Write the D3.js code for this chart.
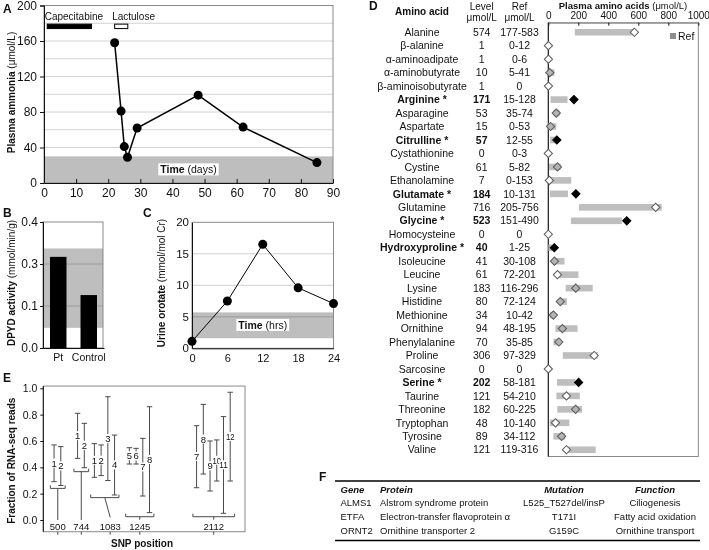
<!DOCTYPE html>
<html><head><meta charset="utf-8">
<script src="https://cdn.jsdelivr.net/npm/d3@7"></script>
<style>
body{margin:0;background:#fff}
svg{display:block}
text{font-family:"Liberation Sans",Arial,Helvetica,sans-serif;fill:#111}
</style>
</head><body>
<svg id="chart" width="709" height="550"></svg>
<script>
// ---------------- DATA ----------------
// Panel A: plasma ammonia
const ammoniaDays   = [22, 24, 25, 26, 29, 48, 62, 85];
const ammoniaValues = [158, 81, 41, 29, 62, 99, 63, 23];
const ammoniaNormal = [0, 30];
const ammoniaYTicks = [0, 40, 80, 120, 160, 200];
const dayTicks      = [0, 10, 20, 30, 40, 50, 60, 70, 80, 90];
const drugNames     = ["Capecitabine", "Lactulose"];
const drugStart     = [1, 22];
const drugEnd       = [14.8, 26.1];
const drugFilled    = [true, false];

// Panel B: DPYD activity
const dpydGroups = ["Pt", "Control"];
const dpydValues = [0.317, 0.152];
const dpydNormal = [0.048, 0.337];
const dpydTicks  = [0.0, 0.1, 0.3, 0.4];

// Panel C: urine orotate
const orotateHours  = [0, 6, 12, 18, 24];
const orotateValues = [1.1, 7.5, 16.5, 9.6, 7.1];
const orotateNormal = [1.6, 5.7];
const orotateYTicks = [0, 5, 10, 15, 20];

// Panel D: plasma amino acids
const aminoNames = ["Alanine","β-alanine","α-aminoadipate","α-aminobutyrate","β-aminoisobutyrate",
  "Arginine *","Asparagine","Aspartate","Citrulline *","Cystathionine","Cystine","Ethanolamine",
  "Glutamate *","Glutamine","Glycine *","Homocysteine","Hydroxyproline *","Isoleucine","Leucine",
  "Lysine","Histidine","Methionine","Ornithine","Phenylalanine","Proline","Sarcosine","Serine *",
  "Taurine","Threonine","Tryptophan","Tyrosine","Valine"];
const aminoLevels = [574,1,1,10,1,171,53,15,57,0,61,7,184,716,523,0,40,41,61,183,80,34,94,70,306,0,202,121,182,48,89,121];
const aminoRefLow  = [177,0,0,5,0,15,35,0,12,0,5,0,10,205,151,0,1,30,72,116,72,10,48,35,97,0,58,54,60,10,34,119];
const aminoRefHigh = [583,12,6,41,0,128,74,53,55,3,82,153,131,756,490,0,25,108,201,296,124,42,195,85,329,0,181,210,225,140,112,316];
const aminoStatus  = ["w","w","w","g","w","b","g","g","b","w","g","w","b","w","b","w","b","g","w","g","g","g","g","g","w","w","b","w","g","w","g","w"];
const aminoTicks   = [0, 200, 400, 600, 800, 1000];

// Panel E: fraction of RNA-seq reads
const snpGroups      = ["500", "744", "1083", "1245", "2112"];
const snpGroupStart  = [1.6, 5.1, 7.6, 12.8, 22.8];
const snpBracket     = [0.24, 0.367, 0.17, 0.025, 0.025];
const readGroup  = [0,0, 1,1, 2,2,2,2, 3,3,3,3, 4,4,4,4,4,4];
const readLabel  = ["1","2","1","2","1","2","3","4","5","6","7","8","7","8","9","10","11","12"];
const readHigh   = [0.57,0.557,0.81,0.734,0.58,0.57,0.936,0.645,0.549,0.544,0.62,0.86,0.716,0.878,0.60,0.608,0.785,0.97];
const readLow    = [0.291,0.262,0.468,0.397,0.324,0.337,0.30,0.19,0.425,0.425,0.182,0.056,0.245,0.349,0.22,0.296,0.051,0.296];
const fracTicks  = [0, 0.2, 0.4, 0.6, 0.8, 1.0];

// Panel F: table
const tableHeader   = ["Gene", "Protein", "Mutation", "Function"];
const tableGene     = ["ALMS1", "ETFA", "ORNT2"];
const tableProtein  = ["Alstrom syndrome protein", "Electron-transfer flavoprotein α", "Ornithine transporter 2"];
const tableMutation = ["L525_T527del/insP", "T171I", "G159C"];
const tableFunction = ["Ciliogenesis", "Fatty acid oxidation", "Ornithine transport"];

// ---------------- DRAWING ----------------
const svg = d3.select("#chart");
const BAND = "#bebebe";
const BOX = "#8a8a8a";

function panelLetter(t, x, y) {
  svg.append("text").attr("x", x).attr("y", y).attr("font-size", 12).attr("font-weight", "bold").text(t);
}
function richText(g, x, y, parts, size, anchor, rotate) {
  const t = g.append("text").attr("font-size", size).attr("text-anchor", anchor || "middle");
  if (rotate) t.attr("transform", `translate(${x},${y}) rotate(-90)`);
  else t.attr("x", x).attr("y", y);
  parts.forEach(p => t.append("tspan").attr("font-weight", p[1] ? "bold" : "normal").attr("font-style", p[2] ? "italic" : "normal").text(p[0]));
  return t;
}
function styleAxis(g, size) {
  g.attr("font-size", size).attr("font-family", null);
  g.selectAll("path").attr("stroke", "#111");
  g.selectAll("line").attr("stroke", "#111");
}
function boxedLabel(g, x, y, parts) {
  const t = richText(g, x, y + 3.7, parts, 10.5, "middle");
  const bb = t.node().getBBox();
  g.insert("rect", () => t.node()).attr("x", bb.x - 2).attr("y", bb.y).attr("width", bb.width + 4).attr("height", bb.height).attr("fill", "#fff");
}

// ===== Panel A =====
{
  const g = svg.append("g");
  const x = d3.scaleLinear().domain([0, 90]).range([44, 333]);
  const y = d3.scaleLinear().domain([0, 200]).range([183, 5.5]);
  g.selectAll("line.grid").data(y.ticks(10).filter(v => v > 0 && v < 200)).join("line")
    .attr("x1", x(0)).attr("x2", x(90)).attr("y1", d => y(d)).attr("y2", d => y(d)).attr("stroke", "#d2d2d2");
  g.append("rect").attr("x", x(0)).attr("width", x(90) - x(0)).attr("y", y(ammoniaNormal[1])).attr("height", y(ammoniaNormal[0]) - y(ammoniaNormal[1])).attr("fill", BAND);
  g.append("rect").attr("x", x(0)).attr("width", x(90) - x(0)).attr("y", y(200)).attr("height", y(0) - y(200)).attr("fill", "none").attr("stroke", BOX);
  const ax = g.append("g").attr("transform", `translate(0,${y(0)})`).call(d3.axisBottom(x).tickValues(dayTicks).tickSizeInner(-4).tickSizeOuter(0).tickPadding(5));
  styleAxis(ax, 12);
  const ay = g.append("g").attr("transform", `translate(${x(0)},0)`).call(d3.axisLeft(y).tickValues(ammoniaYTicks).tickSize(4).tickPadding(3));
  styleAxis(ay, 12);
  boxedLabel(g, x(45), y(15), [["Time", true], [" (days)", false]]);
  drugNames.forEach((n, i) => {
    g.append("rect").attr("x", x(drugStart[i])).attr("width", x(drugEnd[i]) - x(drugStart[i]))
      .attr("y", y(179)).attr("height", y(174) - y(179))
      .attr("fill", drugFilled[i] ? "#000" : "#fff").attr("stroke", "#000").attr("stroke-width", 1);
    g.append("text").attr("x", x(drugStart[i]) - 2.5).attr("y", y(184)).attr("font-size", 10).text(n);
  });
  const line = d3.line().x((d, i) => x(ammoniaDays[i])).y(d => y(d));
  g.append("path").datum(ammoniaValues).attr("d", line).attr("fill", "none").attr("stroke", "#000").attr("stroke-width", 1.5);
  g.selectAll("circle").data(ammoniaValues).join("circle").attr("cx", (d, i) => x(ammoniaDays[i])).attr("cy", d => y(d)).attr("r", 4.5).attr("fill", "#000");
  richText(g, 15, y(102), [["Plasma ammonia", true], [" (μmol/L)", false]], 10, "middle", true);
  panelLetter("A", 3, 13);
}

// ===== Panel B =====
{
  const g = svg.append("g");
  const y = d3.scaleLinear().domain([0, 0.1, 0.3, 0.4]).range([348, 306, 264, 222]);
  const x = d3.scaleBand().domain(dpydGroups).range([43, 104]).paddingInner(0.46).paddingOuter(0.23);
  g.append("rect").attr("x", 43).attr("width", 60).attr("y", y(dpydNormal[1])).attr("height", y(dpydNormal[0]) - y(dpydNormal[1])).attr("fill", BAND);
  g.selectAll("line.grid").data([0.1, 0.3]).join("line").attr("x1", 43).attr("x2", 103).attr("y1", d => y(d)).attr("y2", d => y(d)).attr("stroke", "#d0d0d0").style("mix-blend-mode", "multiply");
  g.append("rect").attr("x", 43).attr("width", 60).attr("y", y(0.4)).attr("height", y(0) - y(0.4)).attr("fill", "none").attr("stroke", BOX);
  g.selectAll("rect.bar").data(dpydValues).join("rect").attr("class", "bar")
    .attr("x", (d, i) => x(dpydGroups[i])).attr("width", x.bandwidth()).attr("y", d => y(d)).attr("height", d => y(0) - y(d)).attr("fill", "#000");
  const ay = g.append("g").attr("transform", "translate(43,0)").call(d3.axisLeft(y).tickValues(dpydTicks).tickFormat(d3.format(".1f")).tickSize(3).tickPadding(2));
  styleAxis(ay, 12);
  const ax = g.append("g").attr("transform", `translate(0,${y(0)})`).call(d3.axisBottom(x).tickSize(0).tickPadding(6));
  styleAxis(ax, 10.5);
  richText(g, 15, 283, [["DPYD activity", true], [" (mmol/min/g)", false]], 10, "middle", true);
  panelLetter("B", 3, 217);
}

// ===== Panel C =====
{
  const g = svg.append("g");
  const x = d3.scaleLinear().domain([0, 24]).range([192, 333.5]);
  const y = d3.scaleLinear().domain([0, 20]).range([348.3, 222.3]);
  g.append("rect").attr("x", x(0)).attr("width", x(24) - x(0)).attr("y", y(orotateNormal[1])).attr("height", y(orotateNormal[0]) - y(orotateNormal[1])).attr("fill", BAND);
  g.selectAll("line.grid").data([5, 10, 15]).join("line").attr("x1", x(0)).attr("x2", x(24)).attr("y1", d => y(d)).attr("y2", d => y(d)).attr("stroke", "#d0d0d0").style("mix-blend-mode", "multiply");
  g.append("rect").attr("x", x(0)).attr("width", x(24) - x(0)).attr("y", y(20)).attr("height", y(0) - y(20)).attr("fill", "none").attr("stroke", BOX);
  const ax = g.append("g").attr("transform", `translate(0,${y(0)})`).call(d3.axisBottom(x).tickValues(orotateHours).tickSize(0).tickPadding(6));
  styleAxis(ax, 11);
  const ay = g.append("g").attr("transform", `translate(${x(0)},0)`).call(d3.axisLeft(y).tickValues(orotateYTicks).tickSize(0).tickPadding(3));
  styleAxis(ay, 11.5);
  boxedLabel(g, x(12), y((orotateNormal[0] + orotateNormal[1]) / 2), [["Time", true], [" (hrs)", false]]);
  const line = d3.line().x((d, i) => x(orotateHours[i])).y(d => y(d));
  g.append("path").datum(orotateValues).attr("d", line).attr("fill", "none").attr("stroke", "#000").attr("stroke-width", 1);
  g.selectAll("circle").data(orotateValues).join("circle").attr("cx", (d, i) => x(orotateHours[i])).attr("cy", d => y(d)).attr("r", 4.5).attr("fill", "#000");
  richText(g, 165, 283, [["Urine orotate", true], [" (mmol/mol Cr)", false]], 10, "middle", true);
  panelLetter("C", 143, 217);
}

// ===== Panel D =====
{
  const g = svg.append("g");
  const x = d3.scaleLinear().domain([0, 1000]).range([548.3, 698.3]);
  const rows = d3.scaleBand().domain(aminoNames).range([25.5, 456.5]);
  const cy = n => rows(n) + rows.bandwidth() / 2;
  const colName = 422, colLevel = 481.7, colRef = 519.5;
  const FS = 10.5;
  g.append("text").attr("x", colName).attr("y", 14.5).attr("text-anchor", "middle").attr("font-size", 10).attr("font-weight", "bold").text("Amino acid");
  g.append("text").attr("x", colLevel).attr("y", 9.5).attr("text-anchor", "middle").attr("font-size", 10).text("Level");
  g.append("text").attr("x", colLevel).attr("y", 20.5).attr("text-anchor", "middle").attr("font-size", 10).text("μmol/L");
  g.append("text").attr("x", colRef).attr("y", 9.5).attr("text-anchor", "middle").attr("font-size", 10).text("Ref");
  g.append("text").attr("x", colRef).attr("y", 20.5).attr("text-anchor", "middle").attr("font-size", 10).text("μmol/L");
  richText(g, 623, 9, [["Plasma amino acids", true], [" (μmol/L)", false]], 9.5, "middle");
  aminoNames.forEach((n, i) => {
    const bold = aminoStatus[i] === "b";
    g.append("text").attr("x", colName).attr("y", cy(n) + 3.7).attr("text-anchor", "middle").attr("font-size", FS).attr("font-weight", bold ? "bold" : "normal").text(n);
    g.append("text").attr("x", colLevel).attr("y", cy(n) + 3.7).attr("text-anchor", "middle").attr("font-size", FS).attr("font-weight", bold ? "bold" : "normal").text(aminoLevels[i]);
    const refText = aminoRefHigh[i] === 0 ? "0" : `${aminoRefLow[i]}-${aminoRefHigh[i]}`;
    g.append("text").attr("x", colRef).attr("y", cy(n) + 3.7).attr("text-anchor", "middle").attr("font-size", FS).text(refText);
  });
  g.append("rect").attr("x", x(0)).attr("width", x(1000) - x(0)).attr("y", 22.7).attr("height", 456.5 - 22.7).attr("fill", "none").attr("stroke", BOX);
  g.append("line").attr("x1", x(0)).attr("x2", x(0)).attr("y1", 22.7).attr("y2", 456.5).attr("stroke", "#111");
  const ax = g.append("g").attr("transform", "translate(0,22.7)").call(d3.axisTop(x).tickValues(aminoTicks).tickFormat(d3.format("d")).tickSizeInner(-3).tickSizeOuter(0).tickPadding(4));
  styleAxis(ax, 10);
  ax.select("path").attr("stroke", BOX);
  g.selectAll("rect.ref").data(aminoNames).join("rect").attr("class", "ref")
    .attr("x", (d, i) => x(aminoRefLow[i])).attr("width", (d, i) => x(aminoRefHigh[i]) - x(aminoRefLow[i]))
    .attr("y", d => cy(d) - 3.3).attr("height", 6.6).attr("fill", BAND);
  const sym = d3.symbol(d3.symbolSquare, 34);
  const fills = { b: "#000", g: "#b4b4b4", w: "#fff" };
  g.selectAll("path.dia").data(aminoNames).join("path").attr("class", "dia").attr("d", sym)
    .attr("transform", (d, i) => `translate(${x(aminoLevels[i])},${cy(d)}) rotate(45)`)
    .attr("fill", (d, i) => fills[aminoStatus[i]])
    .attr("stroke", (d, i) => aminoStatus[i] === "b" ? "#000" : "#5a5a5a").attr("stroke-width", 1);
  g.append("rect").attr("x", 670).attr("y", 33).attr("width", 6).attr("height", 6).attr("fill", "#8c8c8c");
  g.append("text").attr("x", 678).attr("y", 40).attr("font-size", 10.5).text("Ref");
  panelLetter("D", 369, 10);
}

// ===== Panel E =====
{
  const g = svg.append("g");
  const x = d3.scaleLinear().domain([0, 30]).range([43.3, 245]);
  const y = d3.scaleLinear().domain([0, 1]).range([520, 388.3]);
  g.append("rect").attr("x", x(0)).attr("width", x(30) - x(0)).attr("y", y(1.017)).attr("height", y(-0.089) - y(1.017)).attr("fill", "none").attr("stroke", BOX);
  const ay = g.append("g").attr("transform", `translate(${x(0)},0)`).call(d3.axisLeft(y).tickValues(fracTicks).tickFormat(d3.format(".1f")).tickSize(3).tickPadding(3));
  styleAxis(ay, 10.5);
  ay.select("path").attr("d", `M0,${y(1.017)}V${y(-0.089)}`);
  const S = "#4a4a4a";
  const readX = readLabel.map((d, i) => {
    const grp = readGroup[i];
    const k = readGroup.slice(0, i).filter(v => v === grp).length;
    return snpGroupStart[grp] + k;
  });
  snpGroups.forEach((name, gi) => {
    const xs = readX.filter((d, i) => readGroup[i] === gi);
    const x0 = x(d3.min(xs) - 0.55), x1 = x(d3.max(xs) + 0.65), xm = (x0 + x1) / 2;
    const yb = y(snpBracket[gi]);
    g.append("path").attr("d", `M${x0},${yb - 3}V${yb}H${x1}V${yb - 3}`).attr("fill", "none").attr("stroke", S);
    let xl = xm;
    if (snpBracket[gi] > 0.2) {
      g.append("line").attr("x1", xm).attr("x2", xm).attr("y1", yb).attr("y2", y(0)).attr("stroke", S);
    } else if (snpBracket[gi] > 0.1) {
      xl = xm + x(0.8) - x(0);
      g.append("line").attr("x1", xm).attr("x2", xl).attr("y1", yb).attr("y2", y(0.02)).attr("stroke", S);
    } else {
      g.append("line").attr("x1", xm).attr("x2", xm).attr("y1", yb).attr("y2", yb + 3).attr("stroke", S);
    }
    g.append("line").attr("x1", xl).attr("x2", xl).attr("y1", y(-0.089)).attr("y2", y(-0.089) + 3).attr("stroke", S);
    g.append("text").attr("x", xl).attr("y", y(0) + 9.5).attr("text-anchor", "middle").attr("font-size", 9.5).text(name);
  });
  readLabel.forEach((lab, i) => {
    const cx = x(readX[i]);
    g.append("line").attr("x1", cx).attr("x2", cx).attr("y1", y(readHigh[i])).attr("y2", y(readLow[i])).attr("stroke", S);
    [readHigh[i], readLow[i]].forEach(v => g.append("line").attr("x1", cx - 2.7).attr("x2", cx + 2.7).attr("y1", y(v)).attr("y2", y(v)).attr("stroke", S));
    const t = g.append("text").attr("x", cx).attr("y", y((readHigh[i] + readLow[i]) / 2) + 3.3).attr("text-anchor", "middle").attr("font-size", 9.5).text(lab);
    if (lab.length > 1) t.attr("textLength", 8.6).attr("lengthAdjust", "spacingAndGlyphs");
    const bb = t.node().getBBox();
    g.insert("rect", () => t.node()).attr("x", bb.x).attr("y", bb.y + 1).attr("width", bb.width).attr("height", bb.height - 2).attr("fill", "#fff");
  });
  g.append("text").attr("transform", `translate(15,${y(0.45)}) rotate(-90)`).attr("text-anchor", "middle").attr("font-size", 10).attr("font-weight", "bold").text("Fraction of RNA-seq reads");
  g.append("text").attr("x", 142).attr("y", 547).attr("text-anchor", "middle").attr("font-size", 10).attr("font-weight", "bold").text("SNP position");
  panelLetter("E", 3, 382);
}

// ===== Panel F =====
{
  const g = svg.append("g");
  const rowY = d3.scalePoint().domain(["h", ...tableGene]).range([492.5, 533.5]);
  const colX = { gene: 340.5, protein: 380, mutation: 564, func: 655 };
  const FS = 9.5;
  g.append("line").attr("x1", 335).attr("x2", 700).attr("y1", 481).attr("y2", 481).attr("stroke", "#000").attr("stroke-width", 1.5);
  g.append("line").attr("x1", 335).attr("x2", 700).attr("y1", 540.5).attr("y2", 540.5).attr("stroke", "#000").attr("stroke-width", 1.5);
  const hdr = (t, xx, anchor) => g.append("text").attr("x", xx).attr("y", rowY("h")).attr("text-anchor", anchor).attr("font-size", FS).attr("font-weight", "bold").attr("font-style", "italic").text(t);
  hdr(tableHeader[0], colX.gene, "start");
  hdr(tableHeader[1], colX.protein, "start");
  hdr(tableHeader[2], colX.mutation, "middle");
  hdr(tableHeader[3], colX.func, "middle");
  tableGene.forEach((gn, i) => {
    const yy = rowY(gn);
    g.append("text").attr("x", colX.gene).attr("y", yy).attr("font-size", FS).text(gn);
    g.append("text").attr("x", colX.protein).attr("y", yy).attr("font-size", FS).text(tableProtein[i]);
    g.append("text").attr("x", colX.mutation).attr("y", yy).attr("text-anchor", "middle").attr("font-size", FS).text(tableMutation[i]);
    g.append("text").attr("x", colX.func).attr("y", yy).attr("text-anchor", "middle").attr("font-size", FS).text(tableFunction[i]);
  });
  panelLetter("F", 319, 481);
}
</script>
</body></html>
